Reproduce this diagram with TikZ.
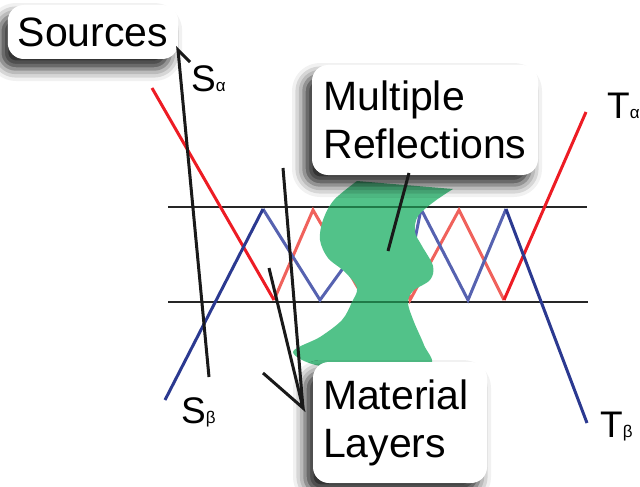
\documentclass[tikz,border=0pt]{standalone}
\usepackage{fontspec}
\setmainfont{Liberation Sans}
\usetikzlibrary{shadows.blur}
\definecolor{rayred}{RGB}{237,28,36}
\definecolor{rayredlt}{RGB}{240,98,92}
\definecolor{rayblue}{RGB}{43,57,144}
\definecolor{raybluelt}{RGB}{86,98,176}
\definecolor{blobgreen}{RGB}{82,194,137}
\definecolor{layergreen}{RGB}{32,122,72}
\newcommand{\lblsub}[1]{{\fontsize{17}{20}\selectfont #1}}
\def\blobpath{(357,181) -- (453,189) -- plot[smooth, tension=0.55] coordinates {(453,189) (435,201) (418,216) (415,232) (422,246) (433,266) (430,280) (413,291) (408,303) (414,322) (424,345) (430,365) (380,368) (320,366) (293,352) (320,337) (342,320) (352,302) (357,288) (345,272) (328,258) (320,240) (323,220) (334,200) (357,181)} -- cycle}

\begin{document}
\begin{tikzpicture}[x=1pt, y=-1pt,
  callout/.style={fill=white, rounded corners=16pt, align=left, inner xsep=10pt, inner ysep=0pt,
    font=\fontsize{41}{48}\selectfont,
    blur shadow={shadow xshift=-8pt, shadow yshift=-10pt, shadow blur radius=12pt, shadow opacity=85}},
  lbl/.style={font=\fontsize{37}{40}\selectfont, inner sep=0pt, anchor=base west},
  layer/.style={line width=1.6pt, black!85},
  ray/.style={line width=3pt},
  pointer/.style={line width=3pt, black!90}]
\useasboundingbox (0,0) rectangle (640,487);

%%%%%%%%%%%%%%%%%%%
\draw[layer] (168,207) -- (587,207);
\draw[layer] (168,302) -- (588,302);

\draw[ray, rayredlt] (274,300) -- (313,210) -- (365,300) -- (388,210) -- (410,300) -- (459,210) -- (504,300);
\draw[ray, raybluelt] (263,209) -- (320,300) -- (386,209) -- (403,300) -- (421,209) -- (468,300) -- (506,209);
\draw[ray, rayred] (152,88) -- (274,300);
\draw[ray, rayred] (504,300) -- (586,112);
\draw[ray, rayblue] (165,400) -- (263,209);
\draw[ray, rayblue] (506,209) -- (587,423);

%%%%%%%%%%%%%%%%%%%
\fill[blobgreen] \blobpath;
\begin{scope}
\clip \blobpath;
\draw[layer, layergreen] (168,207) -- (587,207);
\draw[layer, layergreen] (168,302) -- (588,302);
\end{scope}

%%%%%%%%%%%%%%%%%%%
\node[callout, minimum width=170pt, minimum height=54pt] (src) at (93,32) {Sources};
\node[callout, minimum width=226pt, minimum height=110pt] (mr) at (425,120) {Multiple\\Reflections};
\node[callout, text width=154pt, minimum height=121pt] (ml) at (400,422.5) {Material\\Layers};

\node[lbl] (sa) at (191,92) {S\lblsub{α}};
\node[lbl] (sb) at (181,423) {S\lblsub{β}};
\node[lbl] (ta) at (607,118) {T\lblsub{α}};
\node[lbl] (tb) at (600,437) {T\lblsub{β}};

%%%%%%%%%%%%%%%%%%%
\coordinate (srctip) at (178,50);
\coordinate (srcA) at (190,62);
\coordinate (srcB) at (209,377);
\coordinate (mrtip) at (409,173);
\coordinate (mrA) at (388,251);
\coordinate (mltip) at (303,408);
\coordinate (mlA) at (263,373);
\coordinate (mlB) at (269,268);
\coordinate (mlC) at (283,168);

\draw[pointer] (srcA) -- (srctip) -- (srcB);
\draw[pointer] (mrtip) -- (mrA);
\draw[pointer] (mlA) -- (mltip) -- (mlB);
\draw[pointer] (mltip) -- (mlC);
\end{tikzpicture}
\end{document}
